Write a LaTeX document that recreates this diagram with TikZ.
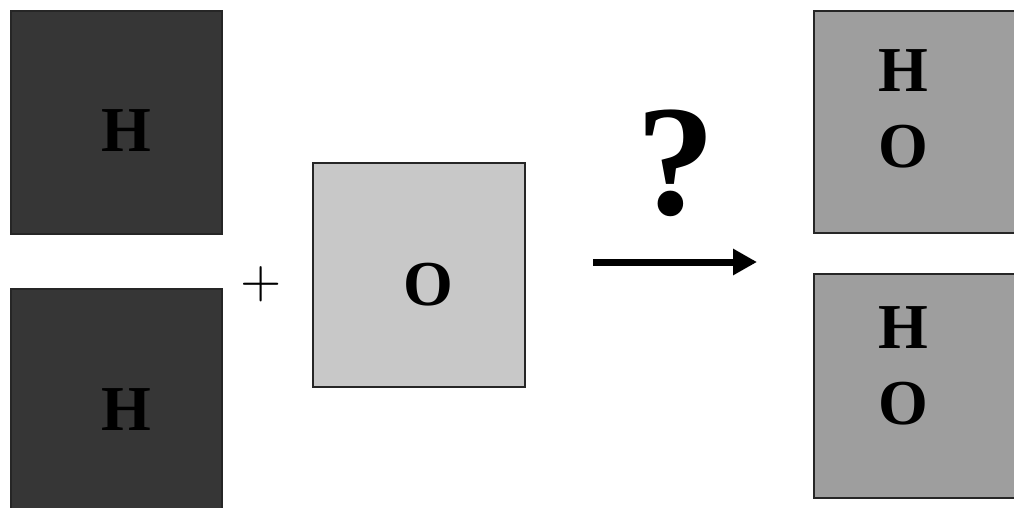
\documentclass[tikz,border=0pt]{standalone}
\usepackage{fontspec}
\setmainfont{Liberation Serif}
\usepackage{xcolor}
\usepackage{tikz}
\usetikzlibrary{arrows.meta}
\definecolor{hydrogen}{HTML}{363636}
\definecolor{oxygen}{HTML}{C8C8C8}
\definecolor{product}{HTML}{9E9E9E}
\begin{document}
\begin{tikzpicture}[x=1pt, y=-1pt,
    atombox/.style={draw=black!85, line width=1.5pt, inner sep=0pt},
    atom/.style={inner sep=0pt, font=\fontsize{64}{76}\selectfont\bfseries}]
    \useasboundingbox (0,0) rectangle (1014,508);

    % Hydrogen boxes
    \node[atombox, fill=hydrogen, minimum width=211pt, minimum height=223pt] (hone) at (116.5,122.5) {};
    \node[atombox, fill=hydrogen, minimum width=211pt, minimum height=230pt] (htwo) at (116.5,404) {};
    \node[atom] (honetext) at (126,131) {H};
    \node[atom] (htwotext) at (126,410) {H};

    % Plus sign
    \node[inner sep=0pt, scale=5.3] (plus) at (261,284) {$+$};

    % Oxygen box
    \node[atombox, fill=oxygen, minimum width=212pt, minimum height=224pt] (oxy) at (419,275) {};
    \node[atom] (oxytext) at (428,285) {O};

    % Reaction arrow with question mark
    \coordinate (arrstart) at (593,262);
    \coordinate (arrend) at (757,262);
    \draw[line width=7pt, -{Triangle[length=24pt, width=25pt]}] (arrstart) -- (arrend);
    \node[inner sep=0pt, font=\fontsize{158}{170}\selectfont\bfseries] (quest) at (676,163) {?};

    % Product boxes
    \foreach \cy/\ht/\hy/\oy/\name in {122/222/92/168/pone, 386/224/348/425/ptwo} {
        \node[atombox, fill=product, minimum width=208pt, minimum height=\ht pt] (\name) at (918,\cy) {};
        \node[atom] (\name h) at (903,\hy) {H};
        \node[atom] (\name o) at (903,\oy) {O};
    }
\end{tikzpicture}
\end{document}
